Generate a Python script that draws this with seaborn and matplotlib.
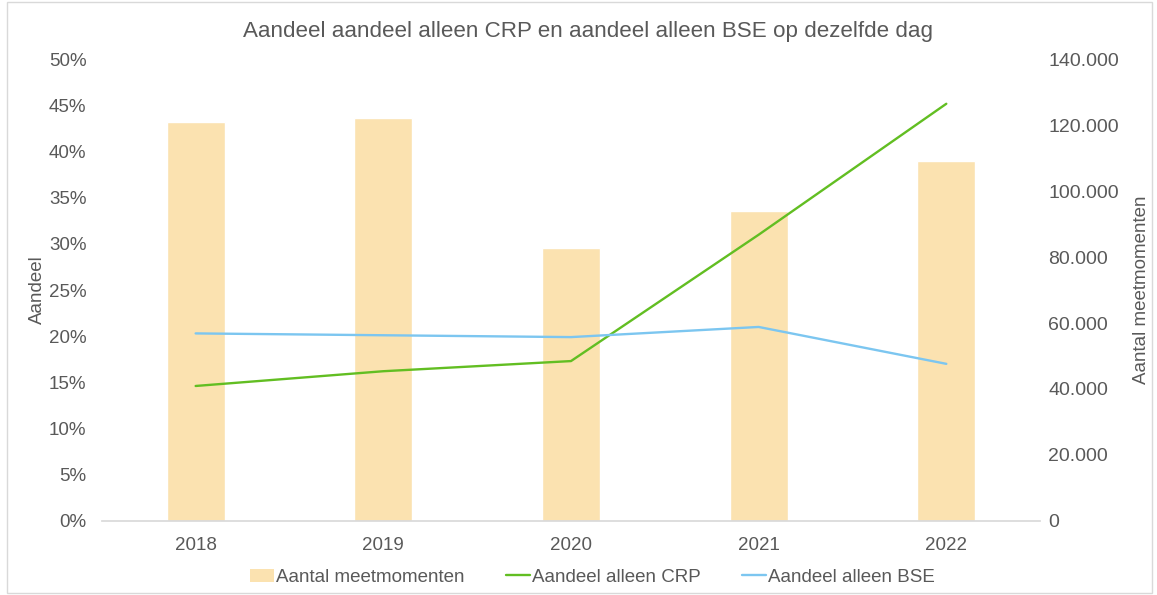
import matplotlib
matplotlib.use("Agg")
import matplotlib.pyplot as plt
import matplotlib.ticker as mticker
from matplotlib.patches import Patch
from matplotlib.lines import Line2D
import seaborn as sns
import pandas as pd

years = ["2018", "2019", "2020", "2021", "2022"]
aantal_meetmomenten = [121000, 122100, 82800, 94000, 109200]
aandeel_crp = [0.146, 0.162, 0.173, 0.310, 0.452]
aandeel_bse = [0.203, 0.201, 0.199, 0.210, 0.170]

bar_color = "#FBE2B0"
crp_color = "#62BE22"
bse_color = "#7CC6F0"
text_color = "#595959"

sns.set_theme(style="white")
plt.rcParams["font.family"] = ["Liberation Sans", "DejaVu Sans"]

df = pd.DataFrame({"jaar": years, "aantal": aantal_meetmomenten,
                   "crp": aandeel_crp, "bse": aandeel_bse})

fig = plt.figure(figsize=(11.57, 5.95), dpi=100)
ax = fig.add_axes([0.088, 0.125, 0.811, 0.775])
ax2 = ax.twinx()

sns.barplot(data=df, x="jaar", y="aantal", ax=ax2, color=bar_color,
            width=0.31, saturation=1)
sns.lineplot(x=list(range(len(years))), y=aandeel_crp, ax=ax, color=crp_color, linewidth=1.7)
sns.lineplot(x=list(range(len(years))), y=aandeel_bse, ax=ax, color=bse_color, linewidth=1.7)

ax.set_zorder(ax2.get_zorder() + 1)
ax.patch.set_visible(False)

ax.set_xlim(-0.5, len(years) - 0.5)
ax2.set_xlim(-0.5, len(years) - 0.5)
ax.set_ylim(0, 0.5)
ax2.set_ylim(0, 140000)
ax.set_yticks([i * 0.05 for i in range(11)])
ax.yaxis.set_major_formatter(mticker.FuncFormatter(lambda v, p: f"{v*100:.0f}%"))
ax2.set_yticks(range(0, 140001, 20000))
ax2.yaxis.set_major_formatter(mticker.FuncFormatter(lambda v, p: f"{int(v):,}".replace(",", ".")))
ax.set_xticks(range(len(years)))
ax.set_xticklabels(years)

for a in (ax, ax2):
    for s in ("top", "left", "right"):
        a.spines[s].set_visible(False)
    a.spines["bottom"].set_color("#D9D9D9")
    a.tick_params(length=0, labelsize=13.5, labelcolor=text_color)
ax2.spines["bottom"].set_visible(False)
ax.tick_params(axis="y", pad=11)
ax2.tick_params(axis="y", pad=6, labelsize=14)
ax.tick_params(axis="x", pad=12)
ax2.set_xlabel("")
ax.set_xlabel("")

ax.set_ylabel("Aandeel", fontsize=13.5, color=text_color)
ax.yaxis.set_label_coords(-0.0597, 0.5)
ax2.set_ylabel("Aantal meetmomenten", fontsize=13.5, color=text_color)
ax2.yaxis.set_label_coords(1.099, 0.5)

fig.suptitle("Aandeel aandeel alleen CRP en aandeel alleen BSE op dezelfde dag",
             x=0.508, y=0.965, fontsize=16.1, color=text_color)

handles = [Patch(facecolor=bar_color, edgecolor="none"),
           Line2D([0], [0], color=crp_color, linewidth=1.7),
           Line2D([0], [0], color=bse_color, linewidth=1.7)]
labels = ["Aantal meetmomenten", "Aandeel alleen CRP", "Aandeel alleen BSE"]
fig.legend(handles, labels, loc="center", bbox_to_anchor=(0.512, 0.03), ncol=3,
           frameon=False, fontsize=13.5, labelcolor=text_color, handlelength=1.3,
           handletextpad=0.1, columnspacing=2.2)

fig.add_artist(plt.Rectangle((0.006, 0.003), 0.99, 0.994, transform=fig.transFigure,
                             fill=False, edgecolor="#D9D9D9", linewidth=1))

fig.savefig("out.png", dpi=100)
